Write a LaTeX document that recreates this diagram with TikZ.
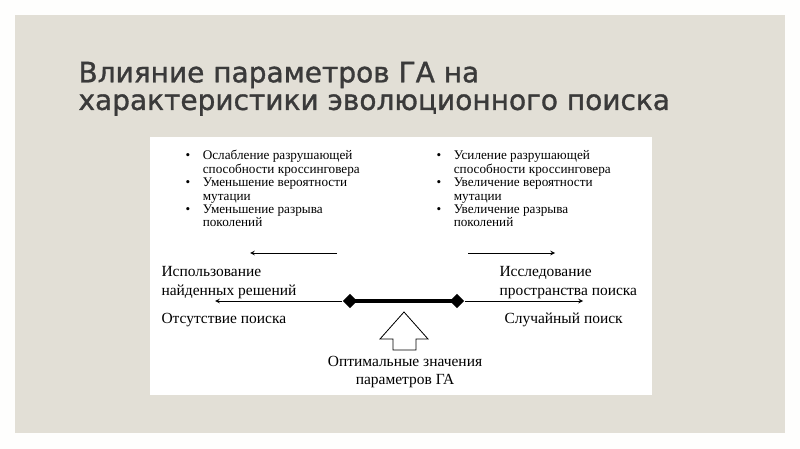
\documentclass[tikz,border=0pt]{standalone}
\usepackage{fontspec}
\setmainfont{Liberation Serif}
\newfontfamily\titlefont[FakeBold=1.2]{DejaVu Sans}
\usetikzlibrary{shapes.geometric}
\definecolor{slidebg}{RGB}{226,223,214}
\definecolor{titlegray}{RGB}{58,58,58}
\tikzset{every picture/.style={line width=0.75pt}}
\tikzset{
  bulletbox/.style={anchor=north west,inner sep=0pt,align=left,font=\fontsize{9.9}{10.9}\selectfont},
  axislabel/.style={anchor=west,inner sep=0pt,align=left,font=\fontsize{11.6}{14.2}\selectfont},
  knot/.style={diamond,fill=black,inner sep=0pt,minimum size=11pt},
}
\begin{document}
\begin{tikzpicture}[x=0.75pt,y=0.75pt,yscale=-1,xscale=1]
\useasboundingbox (0,0) rectangle (800,449);
% frame
\fill[white!96!slidebg] (0,0) rectangle (800,449);
\fill[slidebg] (15,15) rectangle (785,433);
\fill[white] (150,137) rectangle (652,395);

% Title
\node[anchor=west,inner sep=0pt,text=titlegray,font=\titlefont\fontsize{21}{25}\selectfont] (title1) at (78,75) {Влияние параметров ГА на};
\node[anchor=west,inner sep=0pt,text=titlegray,font=\titlefont\fontsize{21}{25}\selectfont] (title2) at (78,105) {характеристики эволюционного поиска};

% bullets
\renewcommand{\arraystretch}{0.92}
\node[bulletbox] (leftlist) at (185,150) {\begin{tabular}{@{}p{4pt}@{\hspace{9pt}}l@{}}
\textbullet & Ослабление разрушающей\\ & способности кроссинговера\\
\textbullet & Уменьшение вероятности\\ & мутации\\
\textbullet & Уменьшение разрыва\\ & поколений\end{tabular}};
\node[bulletbox] (rightlist) at (436,150) {\begin{tabular}{@{}p{4pt}@{\hspace{9pt}}l@{}}
\textbullet & Усиление разрушающей\\ & способности кроссинговера\\
\textbullet & Увеличение вероятности\\ & мутации\\
\textbullet & Увеличение разрыва\\ & поколений\end{tabular}};

% direction arrows
\coordinate (lfrom) at (337,253);
\coordinate (lto) at (250,253);
\coordinate (rfrom) at (468,253);
\coordinate (rto) at (555,253);
\draw[-stealth,line width=0.6pt] (lfrom) -- (lto);
\draw[-stealth,line width=0.6pt] (rfrom) -- (rto);

% axis
\node[knot] (kl) at (350,301) {};
\node[knot] (kr) at (457,301) {};
\coordinate (axl) at (215,301);
\coordinate (axr) at (583,301);
\draw[-stealth,line width=0.6pt] (kl) -- (axl);
\draw[-stealth,line width=0.6pt] (kr) -- (axr);
\draw[line width=2.6pt] (kl.center) -- (kr.center);

% labels
\node[axislabel] (use) at (161,283) {Использование\\найденных решений};
\node[axislabel] (none) at (161,320) {Отсутствие поиска};
\node[axislabel] (explore) at (499,283) {Исследование\\пространства поиска};
\node[axislabel] (random) at (504,320) {Случайный поиск};

% block arrow
\draw[line width=0.6pt] (404,312) -- (428,339) -- (416,339) -- (416,350) -- (393,350) -- (393,339) -- (380,339) -- cycle;
\node[align=center,inner sep=0pt,font=\fontsize{11.6}{14}\selectfont] (optimum) at (405,372) {Оптимальные значения\\параметров ГА};
\end{tikzpicture}
\end{document}
